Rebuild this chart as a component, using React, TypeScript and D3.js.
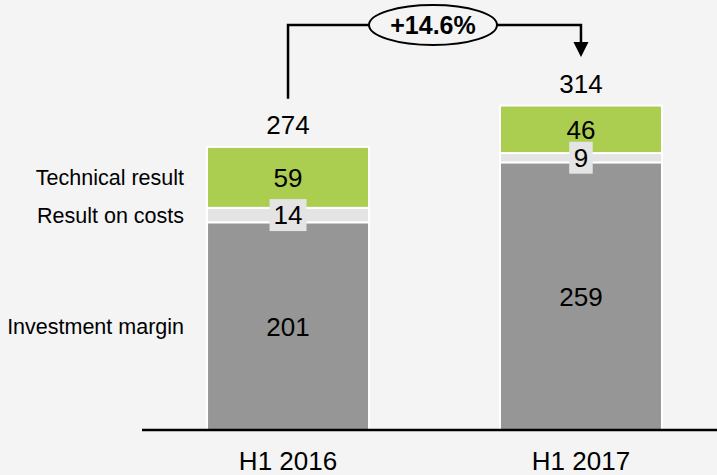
import React, { useRef, useEffect } from 'react';
import * as d3 from 'd3';

const categories = ['H1 2016', 'H1 2017'];
const seriesNames = ['Investment margin', 'Result on costs', 'Technical result'];
const investmentMargin = [201, 259];
const resultOnCosts = [14, 9];
const technicalResult = [59, 46];
const growthLabel = '+14.6%';

const colors = ['#969696', '#e3e4e3', '#abcd50'];

const App = () => {
  const ref = useRef<SVGSVGElement>(null);

  useEffect(() => {
    if (!ref.current) return;
    const width = 717;
    const height = 475;
    const baseline = 430;
    const font = 'Arial, "Liberation Sans", sans-serif';

    const svg = d3.select(ref.current);
    svg.selectAll('*').remove();

    svg.append('rect').attr('width', width).attr('height', height).attr('fill', '#f4f4f4');

    const rows = categories.map((c, i) => ({
      cat: c,
      'Investment margin': investmentMargin[i],
      'Result on costs': resultOnCosts[i],
      'Technical result': technicalResult[i],
    }));
    const stack = d3.stack<any>().keys(seriesNames)(rows);

    const x = d3.scaleBand()
      .domain(categories)
      .range([142, 727])
      .paddingInner(0.447)
      .paddingOuter(0.222);

    const y = d3.scaleLinear().domain([0, 300]).range([baseline, baseline - 310]);

    // stacked segments
    stack.forEach((layer, li) => {
      svg.append('g')
        .selectAll('rect')
        .data(layer)
        .enter()
        .append('rect')
        .attr('x', d => x(d.data.cat)!)
        .attr('y', d => y(d[1]))
        .attr('width', x.bandwidth())
        .attr('height', d => y(d[0]) - y(d[1]))
        .attr('fill', colors[li])
        .attr('stroke', '#ffffff')
        .attr('stroke-width', 2);
    });

    // segment labels
    stack.forEach((layer, li) => {
      layer.forEach(d => {
        const v = d[1] - d[0];
        const cx = x(d.data.cat)! + x.bandwidth() / 2;
        const cy = (y(d[0]) + y(d[1])) / 2;
        const small = y(d[0]) - y(d[1]) < 30;
        if (small) {
          const w = 13.5 * String(v).length + 10;
          svg.append('rect')
            .attr('x', cx - w / 2)
            .attr('y', cy - 16)
            .attr('width', w)
            .attr('height', 32)
            .attr('fill', colors[li]);
        }
        svg.append('text')
          .attr('x', cx)
          .attr('y', cy)
          .attr('dy', '0.36em')
          .attr('text-anchor', 'middle')
          .attr('font-family', font)
          .attr('font-size', 26)
          .attr('fill', '#000')
          .text(v);
      });
    });

    // totals
    const top = stack[stack.length - 1];
    top.forEach(d => {
      svg.append('text')
        .attr('x', x(d.data.cat)! + x.bandwidth() / 2)
        .attr('y', y(d[1]) - 13)
        .attr('text-anchor', 'middle')
        .attr('font-family', font)
        .attr('font-size', 26)
        .attr('fill', '#000')
        .text(d[1]);
    });

    // series labels on the left (from first bar)
    stack.forEach((layer, li) => {
      const d = layer[0];
      svg.append('text')
        .attr('x', 184)
        .attr('y', (y(d[0]) + y(d[1])) / 2)
        .attr('dy', '0.36em')
        .attr('text-anchor', 'end')
        .attr('font-family', font)
        .attr('font-size', 21.5)
        .attr('fill', '#000')
        .text(seriesNames[li]);
    });

    // axis
    const axis = svg.append('g').attr('transform', `translate(0,${baseline})`)
      .call(d3.axisBottom(x).tickSize(0).tickPadding(22));
    axis.select('.domain').attr('d', 'M142,0H717').attr('stroke', '#000').attr('stroke-width', 2.5);
    axis.selectAll('text')
      .attr('font-family', font)
      .attr('font-size', 26)
      .attr('fill', '#000');

    // growth arrow
    const x1 = x(categories[0])! + x.bandwidth() / 2;
    const x2 = x(categories[1])! + x.bandwidth() / 2;
    const ly = 25;
    svg.append('path')
      .attr('d', `M${x1},${y(top[0][1]) - 48}V${ly}H${x2}V${ly + 20}`)
      .attr('fill', 'none')
      .attr('stroke', '#000')
      .attr('stroke-width', 2.5);
    svg.append('path')
      .attr('d', `M${x2 - 7.5},${ly + 17}H${x2 + 7.5}L${x2},${ly + 32}Z`)
      .attr('fill', '#000');
    const ex = 433;
    svg.append('ellipse')
      .attr('cx', ex)
      .attr('cy', ly)
      .attr('rx', 64)
      .attr('ry', 20)
      .attr('fill', '#f4f4f4')
      .attr('stroke', '#000')
      .attr('stroke-width', 2);
    svg.append('text')
      .attr('x', ex)
      .attr('y', ly)
      .attr('dy', '0.36em')
      .attr('text-anchor', 'middle')
      .attr('font-family', font)
      .attr('font-size', 25)
      .attr('font-weight', 'bold')
      .attr('fill', '#000')
      .text(growthLabel);
  }, []);

  return (
    <svg
      ref={ref}
      width={717}
      height={475}
      style={{ position: 'absolute', left: 0, top: 0 }}
    />
  );
};

export default App;
